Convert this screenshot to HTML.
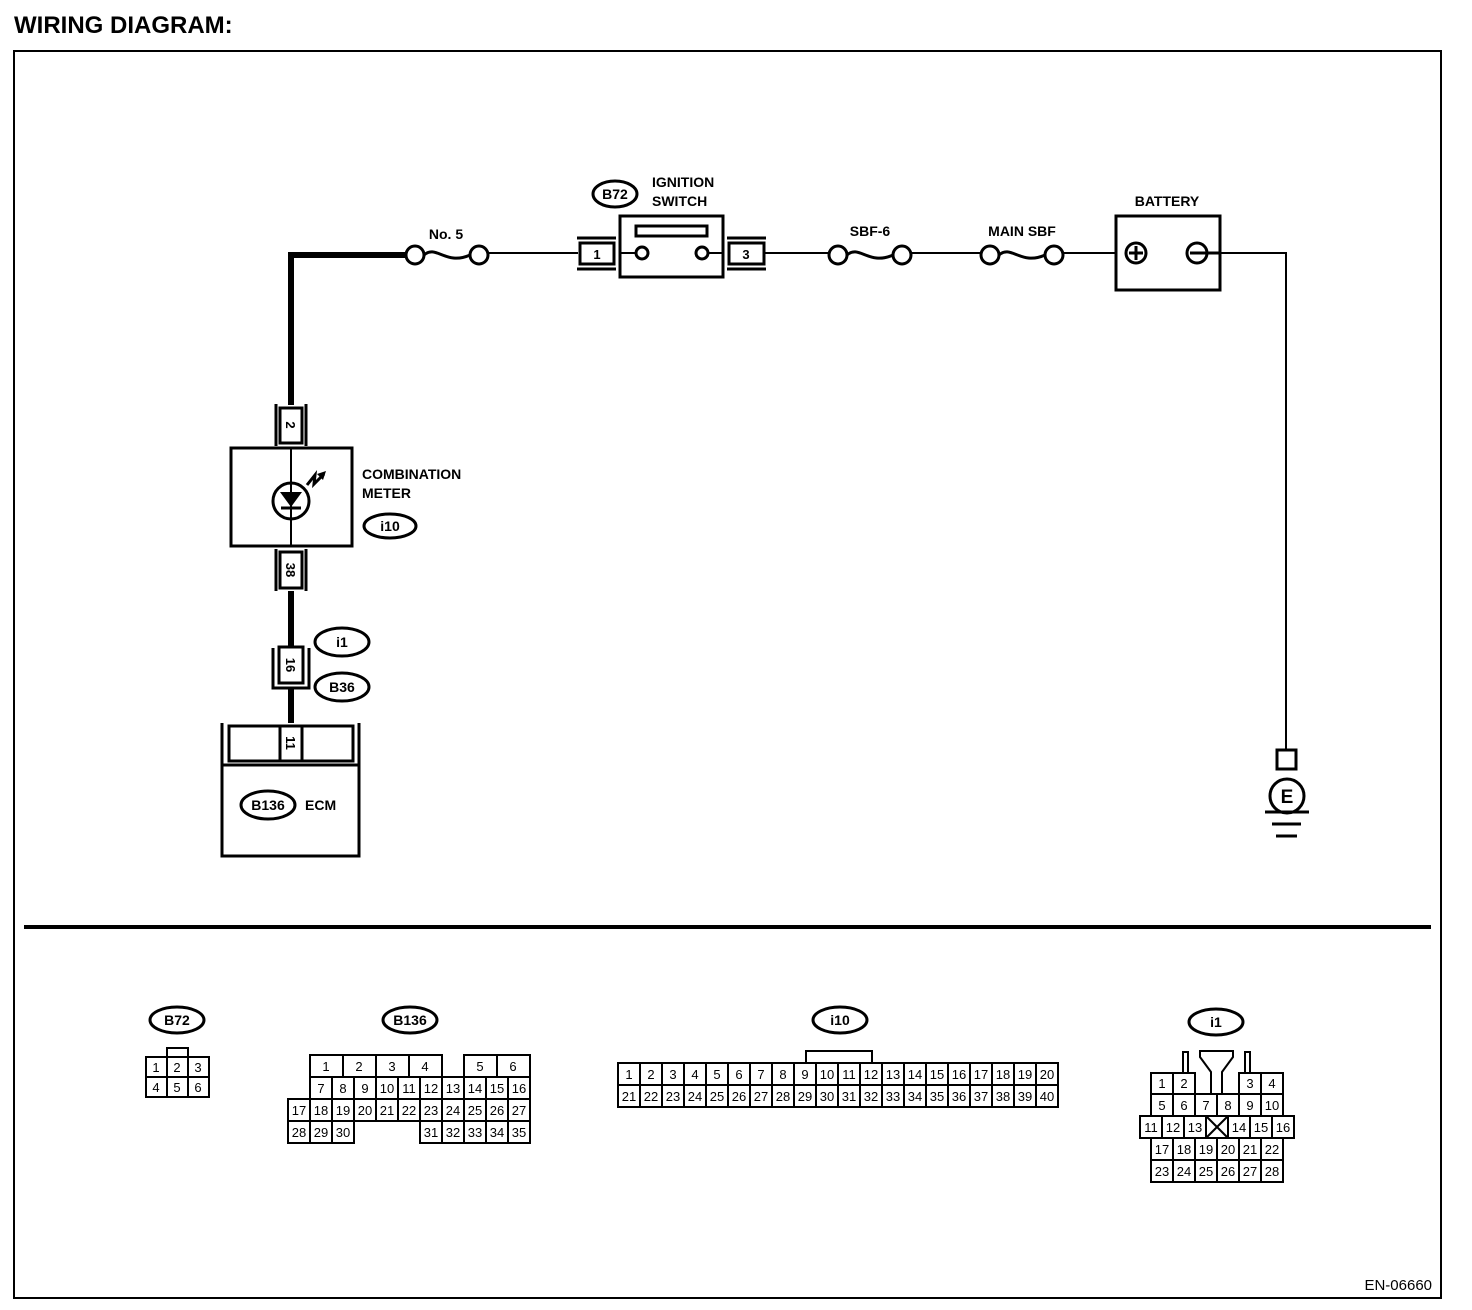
<!DOCTYPE html>
<html><head><meta charset="utf-8"><style>
html,body{margin:0;padding:0;background:#fff;width:1472px;height:1310px;overflow:hidden}
svg{display:block}
text{font-family:"Liberation Sans",Arial,sans-serif;font-weight:bold;fill:#000}
.c rect{fill:#fff;stroke:#000;stroke-width:2}
.c text{font-size:13px;font-weight:normal;text-anchor:middle}
</style></head><body>
<svg width="1472" height="1310" viewBox="0 0 1472 1310" xmlns="http://www.w3.org/2000/svg">
<text x="14" y="33" font-size="24">WIRING DIAGRAM:</text>
<rect x="14" y="51" width="1427" height="1247" fill="none" stroke="#000" stroke-width="2"/>

<polyline points="291,405 291,255 408,255" fill="none" stroke="#000" stroke-width="6"/>
<g fill="#fff" stroke="#000" stroke-width="3">
<circle cx="415" cy="255" r="9"/><circle cx="479" cy="255" r="9"/>
<path d="M424,255 C436,244 446,266 470,255" fill="none"/>
<circle cx="838" cy="255" r="9"/><circle cx="902" cy="255" r="9"/>
<path d="M847,255 C859,244 869,266 893,255" fill="none"/>
<circle cx="990" cy="255" r="9"/><circle cx="1054" cy="255" r="9"/>
<path d="M999,255 C1011,244 1021,266 1045,255" fill="none"/>
</g>
<text x="446" y="239" font-size="14" text-anchor="middle">No. 5</text>
<text x="870" y="236" font-size="14" text-anchor="middle">SBF-6</text>
<text x="1022" y="236" font-size="14" text-anchor="middle">MAIN SBF</text>
<g stroke="#000" stroke-width="2" fill="none">
<line x1="488" y1="253" x2="578" y2="253"/>
<line x1="765" y1="253" x2="829" y2="253"/>
<line x1="911" y1="253" x2="981" y2="253"/>
<line x1="1063" y1="253" x2="1116" y2="253"/>
<polyline points="1207,253 1286,253 1286,750"/>
</g>
<ellipse cx="615" cy="194" rx="22" ry="13" fill="#fff" stroke="#000" stroke-width="3"/>
<text x="615" y="199" font-size="14" text-anchor="middle">B72</text>
<text x="652" y="187" font-size="14">IGNITION</text>
<text x="652" y="206" font-size="14">SWITCH</text>
<rect x="620" y="216" width="103" height="61" fill="#fff" stroke="#000" stroke-width="3"/>
<rect x="636" y="226" width="71" height="10" fill="#fff" stroke="#000" stroke-width="3"/>
<line x1="620" y1="253" x2="636" y2="253" stroke="#000" stroke-width="2"/>
<line x1="708" y1="253" x2="723" y2="253" stroke="#000" stroke-width="2"/>
<circle cx="642" cy="253" r="6" fill="#fff" stroke="#000" stroke-width="3"/>
<circle cx="702" cy="253" r="6" fill="#fff" stroke="#000" stroke-width="3"/>
<g stroke="#000" stroke-width="3" fill="#fff">
<line x1="577" y1="238" x2="616" y2="238"/><line x1="577" y1="269" x2="616" y2="269"/>
<rect x="580" y="243" width="34" height="21"/>
<line x1="727" y1="238" x2="766" y2="238"/><line x1="727" y1="269" x2="766" y2="269"/>
<rect x="729" y="243" width="35" height="21"/>
</g>
<text x="597" y="259" font-size="13" text-anchor="middle">1</text>
<text x="746" y="259" font-size="13" text-anchor="middle">3</text>
<text x="1167" y="206" font-size="14" text-anchor="middle">BATTERY</text>
<rect x="1116" y="216" width="104" height="74" fill="#fff" stroke="#000" stroke-width="3"/>
<g stroke="#000" stroke-width="3" fill="none">
<circle cx="1136" cy="253" r="10"/><line x1="1129" y1="253" x2="1143" y2="253"/><line x1="1136" y1="246" x2="1136" y2="260"/>
<circle cx="1197" cy="253" r="10"/><line x1="1190" y1="253" x2="1220" y2="253"/>
</g>
<g stroke="#000" stroke-width="3" fill="#fff">
<rect x="1277" y="750" width="19" height="19"/>
<circle cx="1287" cy="796" r="17"/>
<line x1="1265" y1="812" x2="1309" y2="812"/>
<line x1="1272" y1="824" x2="1301" y2="824"/>
<line x1="1276" y1="836" x2="1297" y2="836"/>
</g>
<text x="1287" y="803" font-size="19" text-anchor="middle">E</text>

<g stroke="#000" stroke-width="3" fill="#fff">
<line x1="276" y1="404" x2="276" y2="446"/><line x1="306" y1="404" x2="306" y2="446"/>
<rect x="280" y="408" width="22" height="35"/>
<rect x="231" y="448" width="121" height="98"/>
<line x1="276" y1="549" x2="276" y2="591"/><line x1="306" y1="549" x2="306" y2="591"/>
<rect x="280" y="552" width="22" height="36"/>
</g>
<line x1="291" y1="448" x2="291" y2="546" stroke="#000" stroke-width="2"/>
<circle cx="291" cy="501" r="18" fill="none" stroke="#000" stroke-width="3"/>
<polygon points="280,492 302,492 291,507" fill="#000"/>
<line x1="281" y1="508" x2="301" y2="508" stroke="#000" stroke-width="3"/>
<polyline points="307,485 315,475 314,484 324,474" fill="none" stroke="#000" stroke-width="3"/>
<polygon points="326,471 317,474 323,480" fill="#000"/>
<text transform="translate(286,425) rotate(90)" font-size="13" text-anchor="middle">2</text>
<text transform="translate(286,570) rotate(90)" font-size="13" text-anchor="middle">38</text>
<text x="362" y="479" font-size="14">COMBINATION</text>
<text x="362" y="498" font-size="14">METER</text>
<ellipse cx="390" cy="526" rx="26" ry="12" fill="#fff" stroke="#000" stroke-width="3"/>
<text x="390" y="531" font-size="14" text-anchor="middle">i10</text>
<line x1="291" y1="591" x2="291" y2="646" stroke="#000" stroke-width="6"/>
<g stroke="#000" stroke-width="3" fill="#fff">
<polyline points="273,648 273,688 309,688 309,648"/>
<rect x="279" y="647" width="24" height="36"/>
</g>
<text transform="translate(286,665) rotate(90)" font-size="13" text-anchor="middle">16</text>
<ellipse cx="342" cy="642" rx="27" ry="14" fill="#fff" stroke="#000" stroke-width="3"/>
<text x="342" y="647" font-size="14" text-anchor="middle">i1</text>
<ellipse cx="342" cy="687" rx="27" ry="14" fill="#fff" stroke="#000" stroke-width="3"/>
<text x="342" y="692" font-size="14" text-anchor="middle">B36</text>
<line x1="291" y1="688" x2="291" y2="726" stroke="#000" stroke-width="6"/>
<g stroke="#000" stroke-width="3" fill="#fff">
<polyline points="222,723 222,856 359,856 359,723"/>
<rect x="229" y="726" width="124" height="35"/>
<line x1="222" y1="765" x2="359" y2="765"/>
<rect x="280" y="726" width="22" height="35"/>
</g>
<text transform="translate(286,743) rotate(90)" font-size="13" text-anchor="middle">11</text>
<ellipse cx="268" cy="805" rx="27" ry="14" fill="#fff" stroke="#000" stroke-width="3"/>
<text x="268" y="810" font-size="14" text-anchor="middle">B136</text>
<text x="305" y="810" font-size="14">ECM</text>

<line x1="24" y1="927" x2="1431" y2="927" stroke="#000" stroke-width="4"/>

<g fill="#fff" stroke="#000" stroke-width="3">
<ellipse cx="177" cy="1020" rx="27" ry="13"/>
<ellipse cx="410" cy="1020" rx="27" ry="13"/>
<ellipse cx="840" cy="1020" rx="27" ry="13"/>
<ellipse cx="1216" cy="1022" rx="27" ry="13"/>
</g>
<text x="177" y="1025" font-size="14" text-anchor="middle">B72</text>
<text x="410" y="1025" font-size="14" text-anchor="middle">B136</text>
<text x="840" y="1025" font-size="14" text-anchor="middle">i10</text>
<text x="1216" y="1027" font-size="14" text-anchor="middle">i1</text>

<g class="c">
<rect x="167" y="1048" width="21" height="9"/>
<rect x="146" y="1057" width="21" height="20"/><rect x="167" y="1057" width="21" height="20"/><rect x="188" y="1057" width="21" height="20"/>
<rect x="146" y="1077" width="21" height="20"/><rect x="167" y="1077" width="21" height="20"/><rect x="188" y="1077" width="21" height="20"/>
<text x="156" y="1072">1</text><text x="177" y="1072">2</text><text x="198" y="1072">3</text>
<text x="156" y="1092">4</text><text x="177" y="1092">5</text><text x="198" y="1092">6</text>
</g>

<g class="c">
<rect x="310" y="1055" width="33" height="22"/><rect x="343" y="1055" width="33" height="22"/><rect x="376" y="1055" width="33" height="22"/><rect x="409" y="1055" width="33" height="22"/>
<rect x="464" y="1055" width="33" height="22"/><rect x="497" y="1055" width="33" height="22"/>
<text x="326" y="1071">1</text><text x="359" y="1071">2</text><text x="392" y="1071">3</text><text x="425" y="1071">4</text><text x="480" y="1071">5</text><text x="513" y="1071">6</text>
<rect x="310" y="1077" width="22" height="22"/><rect x="332" y="1077" width="22" height="22"/><rect x="354" y="1077" width="22" height="22"/><rect x="376" y="1077" width="22" height="22"/><rect x="398" y="1077" width="22" height="22"/><rect x="420" y="1077" width="22" height="22"/><rect x="442" y="1077" width="22" height="22"/><rect x="464" y="1077" width="22" height="22"/><rect x="486" y="1077" width="22" height="22"/><rect x="508" y="1077" width="22" height="22"/>
<text x="321" y="1093">7</text><text x="343" y="1093">8</text><text x="365" y="1093">9</text><text x="387" y="1093">10</text><text x="409" y="1093">11</text><text x="431" y="1093">12</text><text x="453" y="1093">13</text><text x="475" y="1093">14</text><text x="497" y="1093">15</text><text x="519" y="1093">16</text>
<rect x="288" y="1099" width="22" height="22"/><rect x="310" y="1099" width="22" height="22"/><rect x="332" y="1099" width="22" height="22"/><rect x="354" y="1099" width="22" height="22"/><rect x="376" y="1099" width="22" height="22"/><rect x="398" y="1099" width="22" height="22"/><rect x="420" y="1099" width="22" height="22"/><rect x="442" y="1099" width="22" height="22"/><rect x="464" y="1099" width="22" height="22"/><rect x="486" y="1099" width="22" height="22"/><rect x="508" y="1099" width="22" height="22"/>
<text x="299" y="1115">17</text><text x="321" y="1115">18</text><text x="343" y="1115">19</text><text x="365" y="1115">20</text><text x="387" y="1115">21</text><text x="409" y="1115">22</text><text x="431" y="1115">23</text><text x="453" y="1115">24</text><text x="475" y="1115">25</text><text x="497" y="1115">26</text><text x="519" y="1115">27</text>
<rect x="288" y="1121" width="22" height="22"/><rect x="310" y="1121" width="22" height="22"/><rect x="332" y="1121" width="22" height="22"/>
<rect x="420" y="1121" width="22" height="22"/><rect x="442" y="1121" width="22" height="22"/><rect x="464" y="1121" width="22" height="22"/><rect x="486" y="1121" width="22" height="22"/><rect x="508" y="1121" width="22" height="22"/>
<text x="299" y="1137">28</text><text x="321" y="1137">29</text><text x="343" y="1137">30</text><text x="431" y="1137">31</text><text x="453" y="1137">32</text><text x="475" y="1137">33</text><text x="497" y="1137">34</text><text x="519" y="1137">35</text>
</g>

<g class="c">
<rect x="806" y="1051" width="66" height="12"/>
<rect x="618" y="1063" width="22" height="22"/><rect x="640" y="1063" width="22" height="22"/><rect x="662" y="1063" width="22" height="22"/><rect x="684" y="1063" width="22" height="22"/><rect x="706" y="1063" width="22" height="22"/><rect x="728" y="1063" width="22" height="22"/><rect x="750" y="1063" width="22" height="22"/><rect x="772" y="1063" width="22" height="22"/><rect x="794" y="1063" width="22" height="22"/><rect x="816" y="1063" width="22" height="22"/><rect x="838" y="1063" width="22" height="22"/><rect x="860" y="1063" width="22" height="22"/><rect x="882" y="1063" width="22" height="22"/><rect x="904" y="1063" width="22" height="22"/><rect x="926" y="1063" width="22" height="22"/><rect x="948" y="1063" width="22" height="22"/><rect x="970" y="1063" width="22" height="22"/><rect x="992" y="1063" width="22" height="22"/><rect x="1014" y="1063" width="22" height="22"/><rect x="1036" y="1063" width="22" height="22"/>
<rect x="618" y="1085" width="22" height="22"/><rect x="640" y="1085" width="22" height="22"/><rect x="662" y="1085" width="22" height="22"/><rect x="684" y="1085" width="22" height="22"/><rect x="706" y="1085" width="22" height="22"/><rect x="728" y="1085" width="22" height="22"/><rect x="750" y="1085" width="22" height="22"/><rect x="772" y="1085" width="22" height="22"/><rect x="794" y="1085" width="22" height="22"/><rect x="816" y="1085" width="22" height="22"/><rect x="838" y="1085" width="22" height="22"/><rect x="860" y="1085" width="22" height="22"/><rect x="882" y="1085" width="22" height="22"/><rect x="904" y="1085" width="22" height="22"/><rect x="926" y="1085" width="22" height="22"/><rect x="948" y="1085" width="22" height="22"/><rect x="970" y="1085" width="22" height="22"/><rect x="992" y="1085" width="22" height="22"/><rect x="1014" y="1085" width="22" height="22"/><rect x="1036" y="1085" width="22" height="22"/>
<text x="629" y="1079">1</text><text x="651" y="1079">2</text><text x="673" y="1079">3</text><text x="695" y="1079">4</text><text x="717" y="1079">5</text><text x="739" y="1079">6</text><text x="761" y="1079">7</text><text x="783" y="1079">8</text><text x="805" y="1079">9</text><text x="827" y="1079">10</text><text x="849" y="1079">11</text><text x="871" y="1079">12</text><text x="893" y="1079">13</text><text x="915" y="1079">14</text><text x="937" y="1079">15</text><text x="959" y="1079">16</text><text x="981" y="1079">17</text><text x="1003" y="1079">18</text><text x="1025" y="1079">19</text><text x="1047" y="1079">20</text>
<text x="629" y="1101">21</text><text x="651" y="1101">22</text><text x="673" y="1101">23</text><text x="695" y="1101">24</text><text x="717" y="1101">25</text><text x="739" y="1101">26</text><text x="761" y="1101">27</text><text x="783" y="1101">28</text><text x="805" y="1101">29</text><text x="827" y="1101">30</text><text x="849" y="1101">31</text><text x="871" y="1101">32</text><text x="893" y="1101">33</text><text x="915" y="1101">34</text><text x="937" y="1101">35</text><text x="959" y="1101">36</text><text x="981" y="1101">37</text><text x="1003" y="1101">38</text><text x="1025" y="1101">39</text><text x="1047" y="1101">40</text>
</g>

<g class="c">
<rect x="1183" y="1052" width="5" height="21"/><rect x="1245" y="1052" width="5" height="21"/>
<polygon points="1200,1051 1233,1051 1233,1057 1222,1072 1222,1094 1211,1094 1211,1072 1200,1057" fill="#fff" stroke="#000" stroke-width="2"/>
<rect x="1151" y="1073" width="22" height="21"/><rect x="1173" y="1073" width="22" height="21"/><rect x="1239" y="1073" width="22" height="21"/><rect x="1261" y="1073" width="22" height="21"/>
<text x="1162" y="1088">1</text><text x="1184" y="1088">2</text><text x="1250" y="1088">3</text><text x="1272" y="1088">4</text>
<rect x="1151" y="1094" width="22" height="22"/><rect x="1173" y="1094" width="22" height="22"/><rect x="1195" y="1094" width="22" height="22"/><rect x="1217" y="1094" width="22" height="22"/><rect x="1239" y="1094" width="22" height="22"/><rect x="1261" y="1094" width="22" height="22"/>
<text x="1162" y="1110">5</text><text x="1184" y="1110">6</text><text x="1206" y="1110">7</text><text x="1228" y="1110">8</text><text x="1250" y="1110">9</text><text x="1272" y="1110">10</text>
<rect x="1140" y="1116" width="22" height="22"/><rect x="1162" y="1116" width="22" height="22"/><rect x="1184" y="1116" width="22" height="22"/><rect x="1206" y="1116" width="22" height="22"/><rect x="1228" y="1116" width="22" height="22"/><rect x="1250" y="1116" width="22" height="22"/><rect x="1272" y="1116" width="22" height="22"/>
<line x1="1206" y1="1116" x2="1228" y2="1138" stroke="#000" stroke-width="2"/><line x1="1228" y1="1116" x2="1206" y2="1138" stroke="#000" stroke-width="2"/>
<text x="1151" y="1132">11</text><text x="1173" y="1132">12</text><text x="1195" y="1132">13</text><text x="1239" y="1132">14</text><text x="1261" y="1132">15</text><text x="1283" y="1132">16</text>
<rect x="1151" y="1138" width="22" height="22"/><rect x="1173" y="1138" width="22" height="22"/><rect x="1195" y="1138" width="22" height="22"/><rect x="1217" y="1138" width="22" height="22"/><rect x="1239" y="1138" width="22" height="22"/><rect x="1261" y="1138" width="22" height="22"/>
<text x="1162" y="1154">17</text><text x="1184" y="1154">18</text><text x="1206" y="1154">19</text><text x="1228" y="1154">20</text><text x="1250" y="1154">21</text><text x="1272" y="1154">22</text>
<rect x="1151" y="1160" width="22" height="22"/><rect x="1173" y="1160" width="22" height="22"/><rect x="1195" y="1160" width="22" height="22"/><rect x="1217" y="1160" width="22" height="22"/><rect x="1239" y="1160" width="22" height="22"/><rect x="1261" y="1160" width="22" height="22"/>
<text x="1162" y="1176">23</text><text x="1184" y="1176">24</text><text x="1206" y="1176">25</text><text x="1228" y="1176">26</text><text x="1250" y="1176">27</text><text x="1272" y="1176">28</text>
</g>

<text x="1432" y="1290" font-size="15" text-anchor="end" style="font-weight:normal">EN-06660</text>
</svg>
</body></html>
